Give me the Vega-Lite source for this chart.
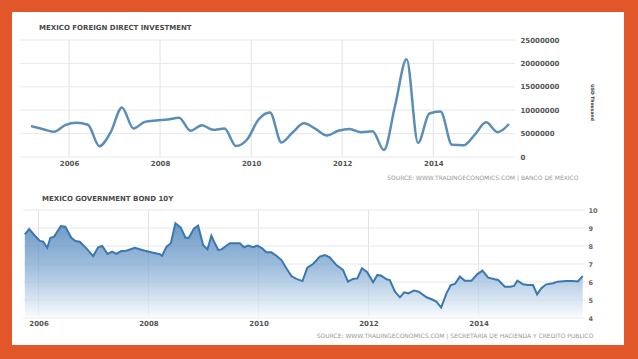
{
  "$schema": "https://vega.github.io/schema/vega-lite/v6.json",
  "background": "#E1572A",
  "padding": {"left": 12, "top": 12, "right": 14, "bottom": 14},
  "spacing": 0,
  "config": {"view": {"fill": "white", "stroke": null}, "font": "DejaVu Sans"},
  "vconcat": [
    {
      "width": 612,
      "height": 171,
      "title": {"text": "MEXICO FOREIGN DIRECT INVESTMENT", "anchor": "start", "frame": "group", "offset": -19, "dx": 27, "fontSize": 7, "fontWeight": "bold", "color": "#4a4a4a", "font": "DejaVu Sans"},
      "layer": [
        {
          "data": {"values": [{"date": "2006-01-01"}, {"date": "2008-01-01"}, {"date": "2010-01-01"}, {"date": "2012-01-01"}, {"date": "2014-01-01"}]},
          "mark": {"type": "rule", "color": "#e2e2e2", "strokeWidth": 1},
          "encoding": {
            "x": {"field": "date", "type": "temporal", "scale": {"domain": [{"year": 2004, "month": 12, "date": 3}, {"year": 2015, "month": 10, "date": 19}], "range": [8, 503]},
              "axis": {"orient": "bottom", "offset": -26, "values": [{"year": 2006, "month": 1, "date": 1}, {"year": 2008, "month": 1, "date": 1}, {"year": 2010, "month": 1, "date": 1}, {"year": 2012, "month": 1, "date": 1}, {"year": 2014, "month": 1, "date": 1}], "format": "%Y", "domain": false, "ticks": false, "grid": false, "labelFontSize": 7, "labelFontWeight": "bold", "labelColor": "#555555", "labelPadding": 2, "labelFlush": false, "labelOverlap": false, "title": "SOURCE: WWW.TRADINGECONOMICS.COM  |  BANCO DE MÉXICO", "titleX": 566, "titleY": 20, "titleAlign": "right", "titleBaseline": "middle", "titleFontSize": 6, "titleFontWeight": "normal", "titleColor": "#999999"}},
            "y": {"datum": 0, "type": "quantitative", "scale": {"domain": [0, 25000000], "range": [145, 28], "nice": false},
              "axis": {"orient": "right", "offset": -109, "values": [0, 5000000, 10000000, 15000000, 20000000, 25000000], "format": "d", "domain": false, "ticks": false, "grid": false, "labelFontSize": 7, "labelFontWeight": "bold", "labelColor": "#555555", "labelPadding": 5, "labelAlign": "left", "labelBaseline": "middle", "labelOverlap": false, "title": "USD Thousand", "titleAngle": 90, "titleX": 76, "titleY": 90, "titleAlign": "center", "titleBaseline": "middle", "titleFontSize": 4.5, "titleFontWeight": "bold", "titleColor": "#333333"}},
            "y2": {"datum": 25000000}
          }
        },
        {
          "data": {"values": [{"value": 0}, {"value": 5000000}, {"value": 10000000}, {"value": 15000000}, {"value": 20000000}, {"value": 25000000}]},
          "mark": {"type": "rule", "color": "#e8e8e8", "strokeWidth": 1},
          "encoding": {
            "y": {"field": "value", "type": "quantitative", "scale": {"domain": [0, 25000000], "range": [145, 28], "nice": false},
              "axis": {"orient": "right", "offset": -109, "values": [0, 5000000, 10000000, 15000000, 20000000, 25000000], "format": "d", "domain": false, "ticks": false, "grid": false, "labelFontSize": 7, "labelFontWeight": "bold", "labelColor": "#555555", "labelPadding": 5, "labelAlign": "left", "labelBaseline": "middle", "labelOverlap": false, "title": "USD Thousand", "titleAngle": 90, "titleX": 76, "titleY": 90, "titleAlign": "center", "titleBaseline": "middle", "titleFontSize": 4.5, "titleFontWeight": "bold", "titleColor": "#333333"}},
            "x": {"datum": {"year": 2004, "month": 12, "date": 3}, "type": "temporal", "scale": {"domain": [{"year": 2004, "month": 12, "date": 3}, {"year": 2015, "month": 10, "date": 19}], "range": [8, 503]},
              "axis": {"orient": "bottom", "offset": -26, "values": [{"year": 2006, "month": 1, "date": 1}, {"year": 2008, "month": 1, "date": 1}, {"year": 2010, "month": 1, "date": 1}, {"year": 2012, "month": 1, "date": 1}, {"year": 2014, "month": 1, "date": 1}], "format": "%Y", "domain": false, "ticks": false, "grid": false, "labelFontSize": 7, "labelFontWeight": "bold", "labelColor": "#555555", "labelPadding": 2, "labelFlush": false, "labelOverlap": false, "title": "SOURCE: WWW.TRADINGECONOMICS.COM  |  BANCO DE MÉXICO", "titleX": 566, "titleY": 20, "titleAlign": "right", "titleBaseline": "middle", "titleFontSize": 6, "titleFontWeight": "normal", "titleColor": "#999999"}},
            "x2": {"datum": {"year": 2015, "month": 10, "date": 19}}
          }
        },
        {
          "data": {"values": [
            {"date": "2005-03-01", "value": 6600000},
            {"date": "2005-06-01", "value": 6000000},
            {"date": "2005-09-01", "value": 5400000},
            {"date": "2005-12-01", "value": 6800000},
            {"date": "2006-03-01", "value": 7300000},
            {"date": "2006-06-01", "value": 6900000},
            {"date": "2006-09-01", "value": 2300000},
            {"date": "2006-12-01", "value": 5300000},
            {"date": "2007-03-01", "value": 10600000},
            {"date": "2007-06-01", "value": 6100000},
            {"date": "2007-09-01", "value": 7500000},
            {"date": "2007-12-01", "value": 7800000},
            {"date": "2008-03-01", "value": 8000000},
            {"date": "2008-06-01", "value": 8400000},
            {"date": "2008-09-01", "value": 5600000},
            {"date": "2008-12-01", "value": 6800000},
            {"date": "2009-03-01", "value": 5800000},
            {"date": "2009-06-01", "value": 6100000},
            {"date": "2009-09-01", "value": 2350000},
            {"date": "2009-12-01", "value": 3800000},
            {"date": "2010-03-01", "value": 8000000},
            {"date": "2010-06-01", "value": 9500000},
            {"date": "2010-09-01", "value": 3100000},
            {"date": "2010-12-01", "value": 5300000},
            {"date": "2011-03-01", "value": 7200000},
            {"date": "2011-06-01", "value": 6000000},
            {"date": "2011-09-01", "value": 4600000},
            {"date": "2011-12-01", "value": 5600000},
            {"date": "2012-03-01", "value": 6000000},
            {"date": "2012-06-01", "value": 5300000},
            {"date": "2012-09-01", "value": 5500000},
            {"date": "2012-12-01", "value": 1500000},
            {"date": "2013-03-01", "value": 11000000},
            {"date": "2013-06-01", "value": 20900000},
            {"date": "2013-09-01", "value": 3000000},
            {"date": "2013-12-01", "value": 9300000},
            {"date": "2014-03-01", "value": 9700000},
            {"date": "2014-06-01", "value": 2600000},
            {"date": "2014-09-01", "value": 2500000},
            {"date": "2014-12-01", "value": 4800000},
            {"date": "2015-03-01", "value": 7400000},
            {"date": "2015-06-01", "value": 5300000},
            {"date": "2015-09-01", "value": 7050000}
          ]},
          "mark": {"type": "line", "interpolate": "monotone", "color": "#5b8db9", "strokeWidth": 2.5},
          "encoding": {
            "x": {"field": "date", "type": "temporal", "scale": {"domain": [{"year": 2004, "month": 12, "date": 3}, {"year": 2015, "month": 10, "date": 19}], "range": [8, 503]},
              "axis": {"orient": "bottom", "offset": -26, "values": [{"year": 2006, "month": 1, "date": 1}, {"year": 2008, "month": 1, "date": 1}, {"year": 2010, "month": 1, "date": 1}, {"year": 2012, "month": 1, "date": 1}, {"year": 2014, "month": 1, "date": 1}], "format": "%Y", "domain": false, "ticks": false, "grid": false, "labelFontSize": 7, "labelFontWeight": "bold", "labelColor": "#555555", "labelPadding": 2, "labelFlush": false, "labelOverlap": false, "title": "SOURCE: WWW.TRADINGECONOMICS.COM  |  BANCO DE MÉXICO", "titleX": 566, "titleY": 20, "titleAlign": "right", "titleBaseline": "middle", "titleFontSize": 6, "titleFontWeight": "normal", "titleColor": "#999999"}},
            "y": {"field": "value", "type": "quantitative", "scale": {"domain": [0, 25000000], "range": [145, 28], "nice": false},
              "axis": {"orient": "right", "offset": -109, "values": [0, 5000000, 10000000, 15000000, 20000000, 25000000], "format": "d", "domain": false, "ticks": false, "grid": false, "labelFontSize": 7, "labelFontWeight": "bold", "labelColor": "#555555", "labelPadding": 5, "labelAlign": "left", "labelBaseline": "middle", "labelOverlap": false, "title": "USD Thousand", "titleAngle": 90, "titleX": 76, "titleY": 90, "titleAlign": "center", "titleBaseline": "middle", "titleFontSize": 4.5, "titleFontWeight": "bold", "titleColor": "#333333"}}
          }
        }
      ]
    },
    {
      "width": 612,
      "height": 162,
      "title": {"text": "MEXICO GOVERNMENT BOND 10Y", "anchor": "start", "frame": "group", "offset": -19, "dx": 30, "fontSize": 7, "fontWeight": "bold", "color": "#4a4a4a", "font": "DejaVu Sans"},
      "layer": [
        {
          "data": {"values": [{"date": "2006-01-01"}, {"date": "2008-01-01"}, {"date": "2010-01-01"}, {"date": "2012-01-01"}, {"date": "2014-01-01"}]},
          "mark": {"type": "rule", "color": "#e2e2e2", "strokeWidth": 1},
          "encoding": {
            "x": {"field": "date", "type": "temporal", "scale": {"domain": [{"year": 2005, "month": 9, "date": 20}, {"year": 2015, "month": 12, "date": 9}], "range": [11, 573]},
              "axis": {"orient": "bottom", "offset": -27, "values": [{"year": 2006, "month": 1, "date": 1}, {"year": 2008, "month": 1, "date": 1}, {"year": 2010, "month": 1, "date": 1}, {"year": 2012, "month": 1, "date": 1}, {"year": 2014, "month": 1, "date": 1}], "format": "%Y", "domain": false, "ticks": false, "grid": false, "labelFontSize": 7, "labelFontWeight": "bold", "labelColor": "#555555", "labelPadding": 1, "labelFlush": false, "labelOverlap": false, "title": "SOURCE: WWW.TRADINGECONOMICS.COM  |  SECRETARIA DE HACIENDA Y CREDITO PUBLICO", "titleX": 581, "titleY": 17, "titleAlign": "right", "titleBaseline": "middle", "titleFontSize": 6, "titleFontWeight": "normal", "titleColor": "#999999"}},
            "y": {"datum": 4, "type": "quantitative", "scale": {"domain": [4, 10], "range": [135, 27], "nice": false, "zero": false},
              "axis": {"orient": "right", "offset": -39, "values": [4, 5, 6, 7, 8, 9, 10], "domain": false, "ticks": false, "grid": false, "labelFontSize": 6.5, "labelFontWeight": "bold", "labelColor": "#666666", "labelPadding": 3, "labelAlign": "left", "labelBaseline": "middle", "labelOverlap": false, "title": null}},
            "y2": {"datum": 10}
          }
        },
        {
          "data": {"values": [{"value": 4}, {"value": 5}, {"value": 6}, {"value": 7}, {"value": 8}, {"value": 9}, {"value": 10}]},
          "mark": {"type": "rule", "color": "#e8e8e8", "strokeWidth": 1},
          "encoding": {
            "y": {"field": "value", "type": "quantitative", "scale": {"domain": [4, 10], "range": [135, 27], "nice": false, "zero": false},
              "axis": {"orient": "right", "offset": -39, "values": [4, 5, 6, 7, 8, 9, 10], "domain": false, "ticks": false, "grid": false, "labelFontSize": 6.5, "labelFontWeight": "bold", "labelColor": "#666666", "labelPadding": 3, "labelAlign": "left", "labelBaseline": "middle", "labelOverlap": false, "title": null}},
            "x": {"datum": {"year": 2005, "month": 9, "date": 20}, "type": "temporal", "scale": {"domain": [{"year": 2005, "month": 9, "date": 20}, {"year": 2015, "month": 12, "date": 9}], "range": [11, 573]},
              "axis": {"orient": "bottom", "offset": -27, "values": [{"year": 2006, "month": 1, "date": 1}, {"year": 2008, "month": 1, "date": 1}, {"year": 2010, "month": 1, "date": 1}, {"year": 2012, "month": 1, "date": 1}, {"year": 2014, "month": 1, "date": 1}], "format": "%Y", "domain": false, "ticks": false, "grid": false, "labelFontSize": 7, "labelFontWeight": "bold", "labelColor": "#555555", "labelPadding": 1, "labelFlush": false, "labelOverlap": false, "title": "SOURCE: WWW.TRADINGECONOMICS.COM  |  SECRETARIA DE HACIENDA Y CREDITO PUBLICO", "titleX": 581, "titleY": 17, "titleAlign": "right", "titleBaseline": "middle", "titleFontSize": 6, "titleFontWeight": "normal", "titleColor": "#999999"}},
            "x2": {"datum": {"year": 2015, "month": 12, "date": 9}}
          }
        },
        {
          "data": {"values": [
            {"date": "2005-10-02", "value": 8.65},
            {"date": "2005-10-31", "value": 8.94},
            {"date": "2005-12-08", "value": 8.57},
            {"date": "2006-01-10", "value": 8.28},
            {"date": "2006-02-01", "value": 8.24},
            {"date": "2006-02-28", "value": 7.90},
            {"date": "2006-03-21", "value": 8.46},
            {"date": "2006-04-15", "value": 8.52},
            {"date": "2006-05-29", "value": 9.11},
            {"date": "2006-06-28", "value": 9.07},
            {"date": "2006-08-07", "value": 8.46},
            {"date": "2006-09-03", "value": 8.28},
            {"date": "2006-10-02", "value": 8.24},
            {"date": "2006-11-15", "value": 7.87},
            {"date": "2006-12-30", "value": 7.44},
            {"date": "2007-02-01", "value": 7.93},
            {"date": "2007-02-28", "value": 8.00},
            {"date": "2007-04-04", "value": 7.56},
            {"date": "2007-05-05", "value": 7.69},
            {"date": "2007-06-02", "value": 7.56},
            {"date": "2007-07-05", "value": 7.72},
            {"date": "2007-08-07", "value": 7.74},
            {"date": "2007-10-02", "value": 7.90},
            {"date": "2007-12-08", "value": 7.74},
            {"date": "2008-02-01", "value": 7.63},
            {"date": "2008-03-17", "value": 7.54},
            {"date": "2008-04-01", "value": 7.46},
            {"date": "2008-04-30", "value": 7.96},
            {"date": "2008-05-29", "value": 8.15},
            {"date": "2008-06-28", "value": 9.26},
            {"date": "2008-08-03", "value": 9.02},
            {"date": "2008-09-03", "value": 8.46},
            {"date": "2008-09-25", "value": 8.46},
            {"date": "2008-10-30", "value": 8.98},
            {"date": "2008-11-26", "value": 9.13},
            {"date": "2008-12-29", "value": 8.06},
            {"date": "2009-01-27", "value": 7.81},
            {"date": "2009-02-22", "value": 8.57},
            {"date": "2009-03-17", "value": 8.15},
            {"date": "2009-04-08", "value": 7.78},
            {"date": "2009-04-30", "value": 7.81},
            {"date": "2009-06-25", "value": 8.15},
            {"date": "2009-07-28", "value": 8.15},
            {"date": "2009-08-30", "value": 8.15},
            {"date": "2009-09-27", "value": 7.93},
            {"date": "2009-10-24", "value": 8.02},
            {"date": "2009-11-26", "value": 7.93},
            {"date": "2009-12-24", "value": 8.02},
            {"date": "2010-01-25", "value": 7.87},
            {"date": "2010-02-22", "value": 7.65},
            {"date": "2010-03-27", "value": 7.65},
            {"date": "2010-04-30", "value": 7.46},
            {"date": "2010-06-02", "value": 7.22},
            {"date": "2010-07-05", "value": 6.76},
            {"date": "2010-08-07", "value": 6.33},
            {"date": "2010-09-09", "value": 6.17},
            {"date": "2010-10-20", "value": 6.05},
            {"date": "2010-11-21", "value": 6.80},
            {"date": "2010-12-29", "value": 7.00},
            {"date": "2011-02-12", "value": 7.41},
            {"date": "2011-03-17", "value": 7.50},
            {"date": "2011-04-19", "value": 7.37},
            {"date": "2011-06-02", "value": 6.94},
            {"date": "2011-07-16", "value": 6.67},
            {"date": "2011-08-18", "value": 6.02},
            {"date": "2011-09-20", "value": 6.17},
            {"date": "2011-10-19", "value": 6.20},
            {"date": "2011-11-19", "value": 6.76},
            {"date": "2011-12-24", "value": 6.54},
            {"date": "2012-02-01", "value": 5.98},
            {"date": "2012-02-29", "value": 6.39},
            {"date": "2012-03-27", "value": 6.35},
            {"date": "2012-04-30", "value": 6.15},
            {"date": "2012-05-22", "value": 6.11},
            {"date": "2012-06-25", "value": 5.46},
            {"date": "2012-07-28", "value": 5.15},
            {"date": "2012-08-25", "value": 5.43},
            {"date": "2012-09-21", "value": 5.37},
            {"date": "2012-10-30", "value": 5.52},
            {"date": "2012-11-30", "value": 5.46},
            {"date": "2013-01-21", "value": 5.15},
            {"date": "2013-03-06", "value": 5.00},
            {"date": "2013-03-27", "value": 4.91},
            {"date": "2013-04-28", "value": 4.58},
            {"date": "2013-06-02", "value": 5.37},
            {"date": "2013-07-01", "value": 5.83},
            {"date": "2013-07-28", "value": 5.89},
            {"date": "2013-08-30", "value": 6.30},
            {"date": "2013-10-02", "value": 6.07},
            {"date": "2013-11-15", "value": 6.07},
            {"date": "2013-12-24", "value": 6.44},
            {"date": "2014-01-27", "value": 6.63},
            {"date": "2014-03-06", "value": 6.24},
            {"date": "2014-04-19", "value": 6.15},
            {"date": "2014-05-11", "value": 6.11},
            {"date": "2014-06-25", "value": 5.74},
            {"date": "2014-07-28", "value": 5.74},
            {"date": "2014-08-25", "value": 5.78},
            {"date": "2014-09-16", "value": 6.07},
            {"date": "2014-10-24", "value": 5.87},
            {"date": "2014-11-26", "value": 5.83},
            {"date": "2014-12-29", "value": 5.83},
            {"date": "2015-01-25", "value": 5.31},
            {"date": "2015-02-22", "value": 5.65},
            {"date": "2015-03-27", "value": 5.87},
            {"date": "2015-05-11", "value": 5.93},
            {"date": "2015-06-10", "value": 6.02},
            {"date": "2015-08-07", "value": 6.06},
            {"date": "2015-09-19", "value": 6.06},
            {"date": "2015-10-22", "value": 6.03},
            {"date": "2015-11-24", "value": 6.33}
          ]},
          "mark": {
            "type": "area", "interpolate": "linear", "color": "#3b77b0",
            "fill": {"gradient": "linear", "x1": 0, "y1": 0, "x2": 0, "y2": 1, "stops": [{"offset": 0, "color": "#2f6fad"}, {"offset": 0.5, "color": "#7ea8d2"}, {"offset": 1, "color": "#f8fafd"}]},
            "line": {"color": "#3b77b0", "strokeWidth": 2}
          },
          "encoding": {
            "x": {"field": "date", "type": "temporal", "scale": {"domain": [{"year": 2005, "month": 9, "date": 20}, {"year": 2015, "month": 12, "date": 9}], "range": [11, 573]},
              "axis": {"orient": "bottom", "offset": -27, "values": [{"year": 2006, "month": 1, "date": 1}, {"year": 2008, "month": 1, "date": 1}, {"year": 2010, "month": 1, "date": 1}, {"year": 2012, "month": 1, "date": 1}, {"year": 2014, "month": 1, "date": 1}], "format": "%Y", "domain": false, "ticks": false, "grid": false, "labelFontSize": 7, "labelFontWeight": "bold", "labelColor": "#555555", "labelPadding": 1, "labelFlush": false, "labelOverlap": false, "title": "SOURCE: WWW.TRADINGECONOMICS.COM  |  SECRETARIA DE HACIENDA Y CREDITO PUBLICO", "titleX": 581, "titleY": 17, "titleAlign": "right", "titleBaseline": "middle", "titleFontSize": 6, "titleFontWeight": "normal", "titleColor": "#999999"}},
            "y": {"field": "value", "type": "quantitative", "scale": {"domain": [4, 10], "range": [135, 27], "nice": false, "zero": false},
              "axis": {"orient": "right", "offset": -39, "values": [4, 5, 6, 7, 8, 9, 10], "domain": false, "ticks": false, "grid": false, "labelFontSize": 6.5, "labelFontWeight": "bold", "labelColor": "#666666", "labelPadding": 3, "labelAlign": "left", "labelBaseline": "middle", "labelOverlap": false, "title": null}},
            "y2": {"datum": 4}
          }
        }
      ]
    }
  ]
}
